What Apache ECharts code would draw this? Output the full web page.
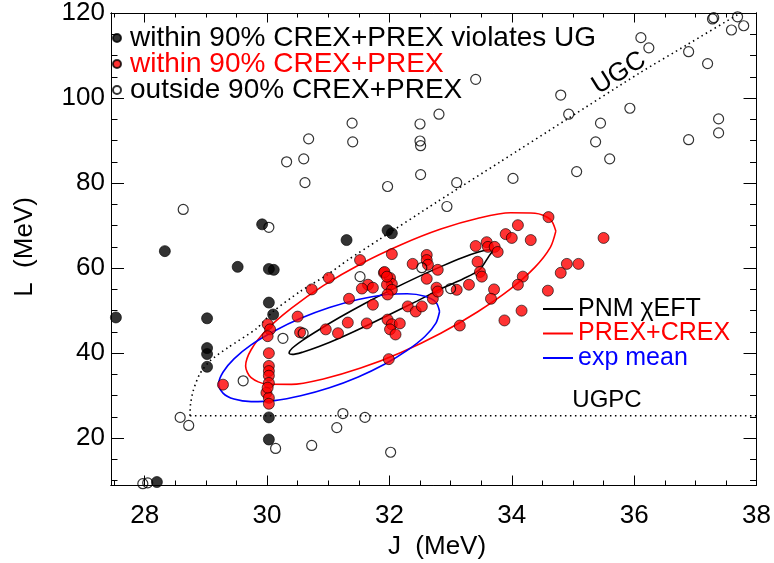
<!DOCTYPE html>
<html><head><meta charset="utf-8">
<script src="https://cdn.jsdelivr.net/npm/echarts@6/dist/echarts.min.js"></script>
<style>html,body{margin:0;padding:0;background:#fff}#c{width:774px;height:563px}</style>
</head><body><div id="c"></div>
<script>
// ---- data (J, L in MeV) ----
const xMajor = [28, 30, 32, 34, 36, 38];
const xMinor = [27.5, 28.5, 29, 29.5, 30.5, 31, 31.5, 32.5, 33, 33.5, 34.5, 35, 35.5, 36.5, 37, 37.5];
const yMajor = [20, 40, 60, 80, 100, 120];
const yMinor = [10, 15, 25, 30, 35, 45, 50, 55, 65, 70, 75, 85, 90, 95, 105, 110, 115];

const violatesUG = [[27.53,48.4],[28.33,64.0],[29.02,48.2],[29.02,41.2],[29.02,39.8],[29.02,36.8],[29.52,60.3],[29.92,70.3],[30.03,59.8],[30.11,59.6],[30.03,51.9],[30.10,49.1],[30.03,24.9],[30.03,19.7],[28.20,9.7],[31.30,66.6],[31.97,68.9],[32.04,68.2]];

const withinCP = [[32.04,63.3],[31.52,61.9],[31.01,57.7],[30.73,55.0],[31.34,52.8],[31.65,56.1],[31.73,55.4],[31.55,55.2],[31.91,58.9],[32.01,57.7],[32.04,56.3],[31.96,56.1],[31.73,51.4],[32.38,61.0],[32.61,63.1],[32.61,61.9],[32.63,60.8],[32.61,57.5],[32.71,52.8],[32.30,51.0],[32.43,49.8],[32.53,51.0],[31.97,47.9],[32.04,46.8],[32.01,45.6],[32.10,44.4],[32.17,47.0],[31.63,47.0],[31.32,47.2],[31.16,44.7],[30.96,45.6],[30.54,44.9],[30.50,48.6],[31.99,38.6],
[30.01,46.8],[30.05,45.6],[30.01,44.0],[30.03,40.0],[30.03,37.0],[30.03,35.8],[30.03,34.7],[30.03,33.0],[29.99,30.7],[30.03,29.5],[30.03,28.1],[30.01,31.9],[29.28,32.6],
[34.60,72.0],[34.10,70.1],[33.90,68.0],[34.00,67.1],[34.31,66.6],[33.41,65.2],[33.59,66.1],[33.61,65.0],[33.72,65.0],[33.77,63.8],[33.44,61.5],[33.48,59.1],[33.51,58.0],[34.18,58.0],[34.10,56.1],[33.71,55.0],[33.66,52.8],[33.30,56.1],[33.10,54.9],[32.79,59.6],[32.77,55.4],[32.79,54.5],[33.15,46.5],[33.88,47.7],[34.16,50.0],[34.59,54.7],[34.80,58.9],[34.90,61.0],[35.09,61.0],[35.50,67.1],[31.92,59.1],[31.96,58.0],[32.04,54.9],[31.97,53.8]];

const outsideCP = [[37.28,118.6],[37.30,118.9],[37.69,119.1],[37.59,116.0],[37.79,117.0],[36.11,114.2],[36.24,111.8],[36.89,110.9],[37.20,108.1],[33.41,104.4],[34.80,100.7],[34.93,96.2],[35.45,94.1],[35.93,97.6],[35.37,89.7],[35.60,85.7],[37.38,95.1],[37.38,91.8],[36.89,90.2],[35.06,82.7],[34.02,81.1],[33.10,80.1],[32.51,82.0],[32.81,96.2],[32.50,93.9],[32.50,89.9],[32.51,88.8],[31.97,79.2],[31.39,94.1],[31.40,89.7],[30.68,90.4],[30.32,85.0],[30.60,85.7],[30.62,80.1],[28.63,73.8],[30.03,69.6],[32.53,60.1],[31.52,58.0],[30.26,43.5],[30.59,44.7],[29.61,33.5],[32.94,74.5],[33.00,55.2],[28.58,24.9],[28.72,23.0],[30.14,17.6],[30.73,18.3],[31.14,22.5],[31.24,25.8],[31.60,24.9],[32.02,16.7],[27.97,9.3],[28.05,9.5]];

const ugcCurve = [[28.74,25.3],[28.75,28.0],[28.79,31.0],[28.90,35.1],[29.07,38.2],[29.36,41.3],[29.83,45.8],[30.10,49.8],[30.54,54.5],[30.98,58.4],[31.32,61.9],[31.84,66.8],[32.77,75.5],[33.80,84.9],[34.90,95.0],[36.09,105.9],[36.86,112.5],[37.69,119.6],[37.75,120.0]];
const ugpcLine = [[28.74,25.3],[38.0,25.3]];

const pnmEllipse = [[33.69,64.04],[33.63,64.34],[33.47,63.83],[33.20,62.50],[32.86,60.47],[32.45,57.83],[32.02,54.83],[31.59,51.63],[31.19,48.44],[30.85,45.52],[30.58,43.03],[30.41,41.16],[30.36,40.02],[30.41,39.71],[30.58,40.23],[30.85,41.56],[31.19,43.58],[31.59,46.22],[32.02,49.23],[32.45,52.24],[32.86,55.25],[33.20,57.44],[33.47,59.58],[33.63,62.89],[33.69,64.04]];
const prexEllipse = [[34.72,68.70],[34.63,71.45],[34.38,72.92],[33.98,73.02],[33.45,71.73],[32.84,69.19],[32.19,65.51],[31.53,60.98],[30.92,55.88],[30.40,50.58],[29.99,45.45],[29.74,40.81],[29.65,36.99],[29.74,34.23],[29.99,32.76],[30.40,32.67],[30.92,33.95],[31.53,36.50],[32.19,40.18],[32.84,44.70],[33.45,49.81],[33.98,55.11],[34.38,60.24],[34.63,64.88],[34.72,68.70]];
const expEllipse = [[32.82,49.81],[32.76,51.98],[32.58,53.40],[32.29,53.99],[31.92,53.75],[31.49,52.63],[31.02,50.74],[30.55,48.20],[30.12,45.22],[29.74,41.95],[29.46,38.66],[29.28,35.52],[29.21,32.79],[29.28,30.62],[29.46,29.20],[29.74,28.61],[30.12,28.85],[30.55,29.97],[31.02,31.85],[31.49,34.40],[31.92,37.38],[32.29,40.65],[32.58,43.93],[32.76,47.08],[32.82,49.81]];

// ---- chart ----
const FONT = "'Liberation Sans', Arial, sans-serif";
const X_MIN = 27.45, X_MAX = 38, Y_MIN = 9, Y_MAX = 120;
const blk = {color:'#000', width:1};

function xAx(position, ticks, len, labels) {
  return {type:'value', min:X_MIN, max:X_MAX, position:position,
    axisLine:{show:true, onZero:false, lineStyle:blk}, splitLine:{show:false},
    axisTick:{show:true, inside:true, length:len, customValues:ticks, lineStyle:blk},
    axisLabel: labels ? {show:true, customValues:xMajor, fontSize:26, fontFamily:FONT, color:'#000', margin:18}
                      : {show:false}};
}
function yAx(position, ticks, len, labels) {
  return {type:'value', min:Y_MIN, max:Y_MAX, position:position,
    axisLine:{show:true, onZero:false, lineStyle:blk}, splitLine:{show:false},
    axisTick:{show:true, inside:true, length:len, customValues:ticks, lineStyle:blk},
    axisLabel: labels ? {show:true, customValues:yMajor, fontSize:26, fontFamily:FONT, color:'#000', margin:6, padding:[8,0,0,0]}
                      : {show:false}};
}

const chart = echarts.init(document.getElementById('c'), null, {renderer:'canvas'});
const lineS = (name, data, color, extra) => Object.assign({
  name:name, type:'line', data:data, showSymbol:false, symbol:'none', smooth:0.3,
  lineStyle:{color:color, width:1.6}, itemStyle:{color:color}, z:2, silent:true, clip:false
}, extra || {});

chart.setOption({
  animation:false,
  backgroundColor:'#fff',
  grid:{left:111, right:17, top:9, bottom:78, containLabel:false},
  xAxis:[xAx('bottom', xMajor, 9.5, true), xAx('bottom', xMinor, 4.5, false), xAx('top', xMajor, 9.5, false), xAx('top', xMinor, 4.5, false)],
  yAxis:[yAx('left', yMajor, 13, true), yAx('left', yMinor, 6.5, false), yAx('right', yMajor, 13, false), yAx('right', yMinor, 6.5, false)],
  legend:[
    {orient:'vertical', left:112, top:24, padding:0, itemGap:-2, itemWidth:16, itemHeight:8, icon:'circle',
     textStyle:{fontSize:28, fontFamily:FONT, color:'#000', lineHeight:26},
     data:[{name:'within 90% CREX+PREX violates UG', textStyle:{color:'#000'}},
           {name:'within 90% CREX+PREX', textStyle:{color:'#ff0000'}},
           {name:'outside 90% CREX+PREX', textStyle:{color:'#000'}}]},
    {orient:'vertical', left:543, top:296, padding:0, itemGap:-1.5, itemWidth:30, itemHeight:2, icon:'rect',
     textStyle:{fontSize:25, fontFamily:FONT, color:'#000', lineHeight:26},
     data:[{name:'PNM χEFT', textStyle:{color:'#000'}},
           {name:'PREX+CREX', textStyle:{color:'#ff0000'}},
           {name:'exp mean', textStyle:{color:'#0000ff'}}]}
  ],
  graphic:[
    {type:'text', x:25, y:247, rotation:Math.PI/2, style:{text:'L  (MeV)', font:'26px '+FONT, fill:'#000', align:'center', verticalAlign:'middle', textAlign:'center', textVerticalAlign:'middle'}},
    {type:'text', x:437, y:547, style:{text:'J  (MeV)', font:'26px '+FONT, fill:'#000', align:'center', verticalAlign:'middle', textAlign:'center', textVerticalAlign:'middle'}},
    {type:'text', x:619, y:73, rotation:0.56, style:{text:'UGC', font:'26px '+FONT, fill:'#000', align:'center', verticalAlign:'middle', textAlign:'center', textVerticalAlign:'middle'}},
    {type:'text', x:607, y:400, style:{text:'UGPC', font:'24px '+FONT, fill:'#000', align:'center', verticalAlign:'middle', textAlign:'center', textVerticalAlign:'middle'}}
  ],
  series:[
    lineS('UGC', ugcCurve, '#000', {lineStyle:{color:'#000', width:1.6, type:[1.5,3.5]}, smooth:0.25}),
    lineS('UGPC', ugpcLine, '#000', {lineStyle:{color:'#000', width:1.6, type:[1.5,3.5]}, smooth:false}),
    lineS('PNM χEFT', pnmEllipse, '#000'),
    lineS('PREX+CREX', prexEllipse, '#ff0000'),
    lineS('exp mean', expEllipse, '#0000ff'),
    {name:'within 90% CREX+PREX violates UG', type:'scatter', data:violatesUG, symbol:'circle', symbolSize:11, clip:false, z:4,
     itemStyle:{color:'#000', borderColor:'#000', borderWidth:0.8}},
    {name:'within 90% CREX+PREX', type:'scatter', data:withinCP, symbol:'circle', symbolSize:11, clip:false, z:5,
     itemStyle:{color:'#ff0000', borderColor:'#000', borderWidth:0.8}},
    {name:'outside 90% CREX+PREX', type:'scatter', data:outsideCP, symbol:'circle', symbolSize:10, clip:false, z:6,
     itemStyle:{color:'rgba(255,255,255,0)', borderColor:'#000', borderWidth:1.2}}
  ]
});
</script></body></html>
